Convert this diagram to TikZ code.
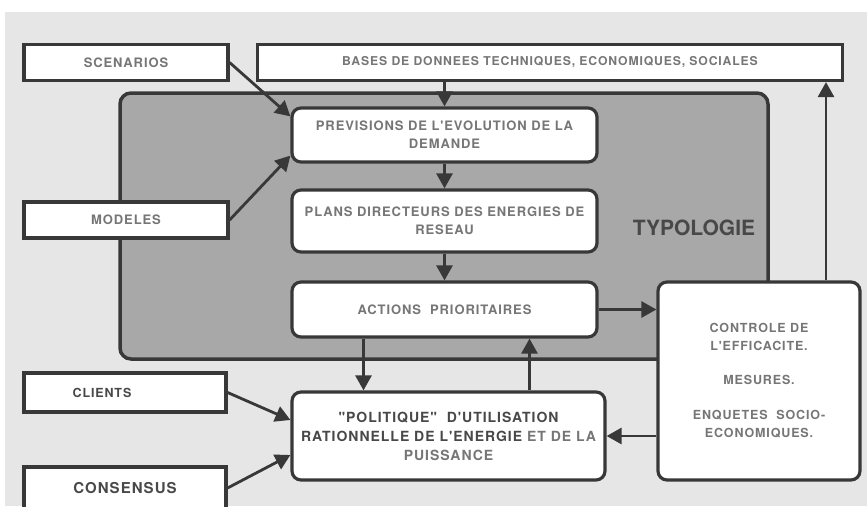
\documentclass[tikz,border=0pt]{standalone}
\usepackage{fontspec}
\setmainfont{TeX Gyre Heros}[Ligatures=TeXOff]
\newfontfamily\spacedfont{TeX Gyre Heros}[LetterSpace=7,Ligatures=TeXOff]
\usetikzlibrary{arrows.meta,calc}

\definecolor{inkgrey}{HTML}{383838}
\definecolor{txtgrey}{HTML}{767676}
\definecolor{darktxt}{HTML}{484848}
\definecolor{paper}{HTML}{E6E6E6}
\definecolor{framegrey}{HTML}{A8A8A8}

\tikzset{
    box/.style={draw=inkgrey, line width=3.2pt, fill=white, text=txtgrey,
        font=\spacedfont\bfseries\fontsize{13}{18}\selectfont, align=center, inner sep=0pt},
    roundbox/.style={box, rounded corners=9pt},
    link/.style={draw=inkgrey, line width=2.8pt, -{Triangle[length=15pt,width=16pt]}},
}

\begin{document}
\begin{tikzpicture}[x=1pt, y=-1pt]
    \useasboundingbox (0,0) rectangle (867,506);
    \clip (0,0) rectangle (867,506);
    \fill[paper] (5,12) rectangle (867,506);

    % grey block
    \node[draw=inkgrey, line width=3.5pt, fill=framegrey, rounded corners=11pt,
        minimum width=648pt, minimum height=266pt] (typo) at (444,226) {};
    \node[text=darktxt, font=\bfseries\fontsize{21}{21}\selectfont] (typolabel) at (694,228) {TYPOLOGIE};

    % inputs
    \node[box, minimum width=204pt, minimum height=36pt] (scen) at (126,62.5) {SCENARIOS};
    \node[box, minimum width=204pt, minimum height=36pt] (modeles) at (126,220) {MODELES};
    \node[box, minimum width=585pt, minimum height=36pt,
        font=\spacedfont\bfseries\fontsize{12.2}{18}\selectfont] (bases) at (550,62.5)
        {BASES DE DONNEES TECHNIQUES, ECONOMIQUES, SOCIALES};
    \node[box, minimum width=202pt, minimum height=39pt, text=darktxt,
        font=\spacedfont\bfseries\fontsize{12.5}{18}\selectfont] (clients) at (125,392.5)
        {CLIENTS\hspace*{46pt}};
    \node[box, minimum width=202pt, minimum height=42pt, text=darktxt,
        font=\spacedfont\bfseries\fontsize{15}{18}\selectfont] (consensus) at (125,488) {CONSENSUS};

    % chain
    \node[roundbox, minimum width=305pt, minimum height=54pt] (prev) at (444.5,135)
        {PREVISIONS DE L'EVOLUTION DE LA\\DEMANDE};
    \node[roundbox, minimum width=305pt, minimum height=62pt] (plans) at (444.5,221)
        {PLANS DIRECTEURS DES ENERGIES DE\\RESEAU};
    \node[roundbox, minimum width=305pt, minimum height=55pt] (actions) at (444.5,309.5)
        {ACTIONS\ \ PRIORITAIRES};
    \node[roundbox, minimum width=202pt, minimum height=198pt,
        font=\spacedfont\bfseries\fontsize{12.5}{18}\selectfont] (ctrl) at (759,381)
        {CONTROLE DE\\L'EFFICACITE.\\[16pt]MESURES.\\[17pt]ENQUETES\ \ SOCIO-\\ECONOMIQUES.};
    \node[roundbox, minimum width=313pt, minimum height=88pt,
        font=\spacedfont\bfseries\fontsize{14}{19}\selectfont] (polit) at (448.5,436)
        {\textcolor{darktxt}{"POLITIQUE"\ \ D'UTILISATION}\\
         \textcolor{darktxt}{RATIONNELLE DE L'ENERGIE} ET DE LA\\PUISSANCE};

    % connections
    \draw[link] (scen.east) -- ([yshift=-10pt]prev.north west);
    \draw[link] (modeles.east) -- ([yshift=8pt]prev.south west);
    \draw[link] (prev.north |- bases.south) -- (prev.north);
    \draw[link] (prev.south) -- (plans.north);
    \draw[link] (plans.south) -- (actions.north);
    \draw[link] (actions.east) -- (ctrl.west |- actions.east);
    \draw[link] ([xshift=-81pt]actions.south) -- ([xshift=-81pt]actions.south |- polit.north);
    \draw[link] ([xshift=85pt]actions.south |- polit.north) -- ([xshift=85pt]actions.south);
    \draw[link] (ctrl.west |- polit.east) -- (polit.east);
    \draw[link] ([xshift=67pt]ctrl.north) -- ([xshift=67pt]ctrl.north |- bases.south);
    \draw[link] (clients.east) -- ([yshift=16pt]polit.west);
    \draw[link] (consensus.east) -- ([yshift=-19pt]polit.west);
\end{tikzpicture}
\end{document}
